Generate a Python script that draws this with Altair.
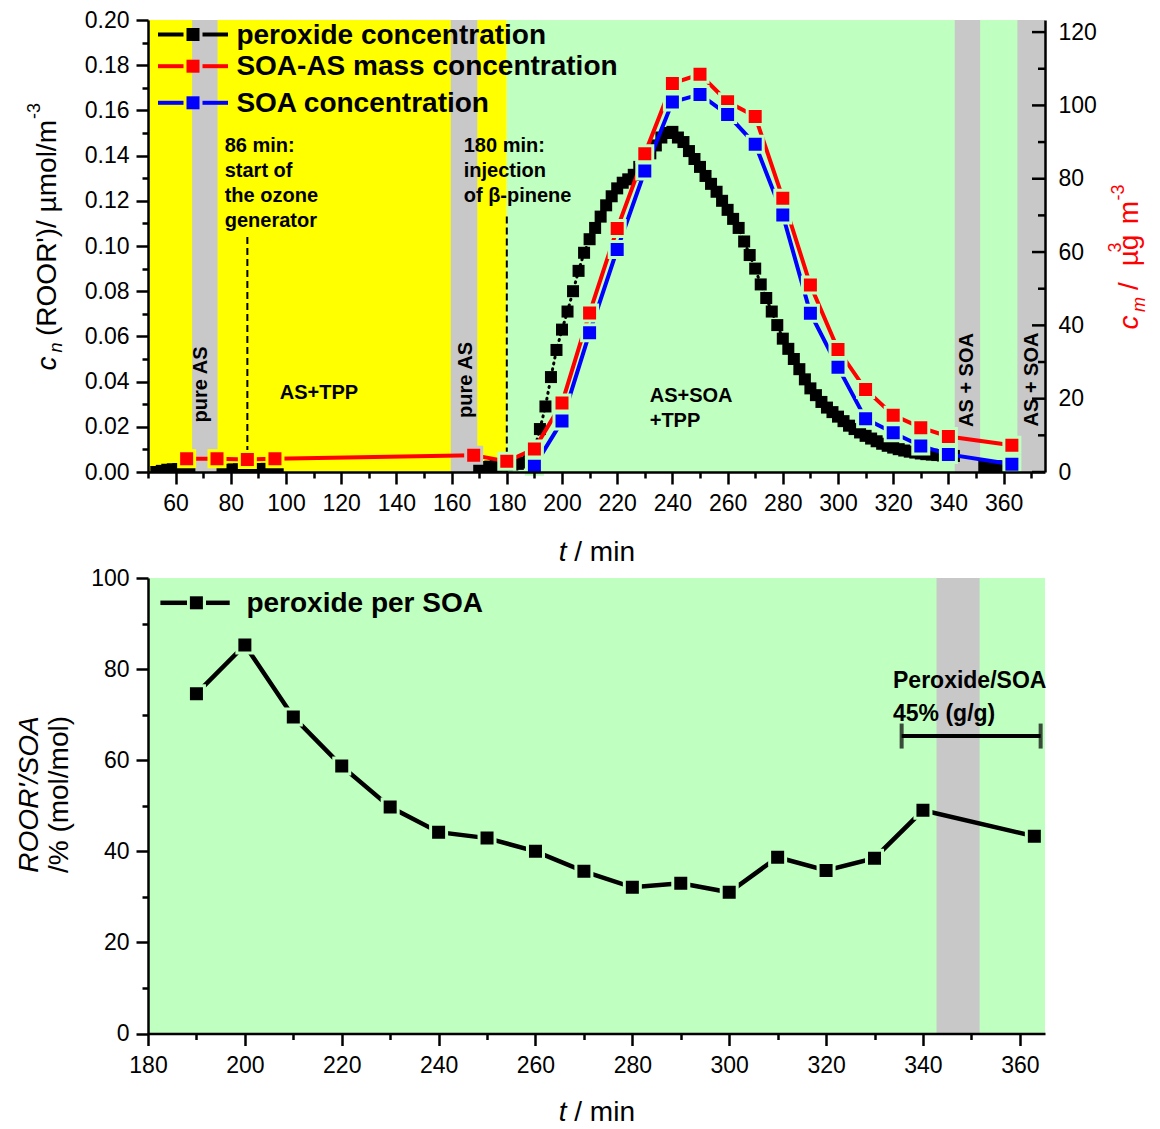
import altair as alt
import pandas as pd

FONT = "Liberation Sans"
YELLOW = "#FFFF00"
GREEN = "#BFFFBF"
GRAY = "#C8C8C8"
RED = "#FF0000"
BLUE = "#0000FF"

W = 897
H1 = 452
H2 = 455.5

# ---------------- data: top panel ----------------
perox_t1 = [53, 55, 57, 59, 61, 63, 65]
perox_v1 = [0.0000, 0.0005, 0.0010, 0.0012, 0.0013, 0.0013, 0.0013]
perox_t2 = [77, 79, 81, 83, 85, 87, 89, 91, 93, 95, 97]
perox_v2 = [0.0008, 0.0010, 0.0011, 0.0012, 0.0012, 0.0013, 0.0013, 0.0013, 0.0014, 0.0014, 0.0014]
perox_t3 = list(range(170, 343, 2))
perox_v3 = [0.0020, 0.0022, 0.0024, 0.0026, 0.0028, 0.0030, 0.0033, 0.0036, 0.0042, 0.0055,
            0.0100, 0.0190, 0.0290, 0.0420, 0.0540, 0.0630, 0.0710, 0.0800, 0.0890, 0.0970,
            0.1030, 0.1080, 0.1130, 0.1180, 0.1220, 0.1255, 0.1280, 0.1295, 0.1315, 0.1350,
            0.1375, 0.1410, 0.1445, 0.1480, 0.1500, 0.1505, 0.1480, 0.1460, 0.1420, 0.1385,
            0.1350, 0.1310, 0.1275, 0.1240, 0.1200, 0.1160, 0.1120, 0.1080, 0.1020, 0.0960,
            0.0900, 0.0830, 0.0770, 0.0710, 0.0650, 0.0590, 0.0545, 0.0500, 0.0455, 0.0410,
            0.0370, 0.0340, 0.0310, 0.0285, 0.0265, 0.0245, 0.0225, 0.0205, 0.0190, 0.0175,
            0.0160, 0.0148, 0.0136, 0.0125, 0.0116, 0.0108, 0.0101, 0.0095, 0.0090, 0.0086,
            0.0082, 0.0079, 0.0077, 0.0075, 0.0073, 0.0072, 0.0071]
perox_t4 = [353, 355, 357, 359, 361, 363]
perox_v4 = [0.0026, 0.0025, 0.0025, 0.0024, 0.0024, 0.0024]

soa_as_t = [64, 75, 86, 96, 168, 180, 190, 200, 210, 220, 230, 240, 250, 260, 270, 280,
            290, 300, 310, 320, 330, 340, 363]
soa_as_v = [3.6, 3.6, 3.4, 3.6, 4.6, 2.9, 6.3, 18.8, 43.4, 66.4, 86.8, 106.0, 108.5, 101.0,
            97.0, 74.7, 51.0, 33.4, 22.5, 15.5, 12.1, 9.7, 7.3]

soa_t = [190, 200, 210, 220, 230, 240, 250, 260, 270, 280, 290, 300, 310, 320, 330, 340, 363]
soa_v = [1.6, 13.9, 38.0, 60.7, 82.1, 100.9, 103.0, 97.5, 89.4, 70.1, 43.3, 28.6, 14.5,
         10.7, 7.1, 4.8, 2.1]

top_domain = [50, 375]
yellow_band = [50, 180]
green_band = [180, 375]
gray_top_start = [66.0, 159.7, 342.3, 365.0]
gray_top_end = [75.2, 169.3, 351.5, 375.0]
event_t = [86, 180]
event_top = [0.104, 0.113]

left_ticks = [round(i * 0.01, 2) for i in range(21)]
top_x_ticks = list(range(50, 371, 10))
right_major = [0, 20, 40, 60, 80, 100, 120]
right_minor = [10, 30, 50, 70, 90, 110]

# ---------------- data: bottom panel ----------------
ratio_t = [190, 200, 210, 220, 230, 240, 250, 260, 270, 280, 290, 300, 310, 320, 330, 340, 363]
ratio_v = [74.6, 85.3, 69.5, 58.7, 49.7, 44.2, 42.9, 40.0, 35.6, 32.1, 33.0, 31.0, 38.7,
           35.8, 38.5, 49.0, 43.3]
bottom_domain = [180, 365.2]
gray_bottom = [342.8, 351.7]
errbar_lo, errbar_hi, errbar_v = 335.6, 364.3, 65.3
bottom_x_ticks = list(range(180, 361, 10))
bottom_y_ticks = list(range(0, 101, 10))

# ---------------- helpers ----------------
ONE = pd.DataFrame({"a": [0]})


def txt(text, x, y, size=20, bold=True, italic=False, color="black", angle=0,
        align="left", baseline="middle", line_height=None):
    kw = dict(font=FONT, fontSize=size, fontWeight="bold" if bold else "normal",
              fontStyle="italic" if italic else "normal", color=color, angle=angle,
              align=align, baseline=baseline)
    if line_height is not None:
        kw["lineHeight"] = line_height
    return alt.Chart(ONE).mark_text(**kw).encode(
        x=alt.value(x), y=alt.value(y), text=alt.value(text))


def axis_common(**kw):
    base = dict(domainColor="black", domainWidth=2.5, tickColor="black", tickWidth=2.5,
                labelFont=FONT, labelFontSize=23, labelColor="black", title=None,
                grid=False, labelOverlap=False, labelFlush=False, zindex=1)
    base.update(kw)
    return alt.Axis(**base)


# ---------------- top panel ----------------
x_top_axis = axis_common(values=top_x_ticks,
                         labelExpr="datum.value % 20 == 0 ? datum.label : ''",
                         tickSize={"condition": {"test": "datum.value % 20 == 0", "value": 12}, "value": 6},
                         labelPadding=8)
x_top = alt.X("t:Q", scale=alt.Scale(domain=top_domain, nice=False, zero=False), axis=x_top_axis)
x2_top = alt.X2("t2:Q")

left_scale = alt.Scale(domain=[0, 0.2], nice=False, zero=True)
left_axis = axis_common(values=left_ticks,
                        labelExpr="round(datum.value*100) % 2 == 0 ? format(datum.value, '.2f') : ''",
                        tickSize={"condition": {"test": "round(datum.value*100) % 2 == 0", "value": 12}, "value": 6},
                        labelPadding=7)
y_left = alt.Y("v:Q", scale=left_scale, axis=left_axis)

right_scale = alt.Scale(domain=[0, 123.3], nice=False, zero=True)
right_axis = axis_common(orient="right", values=right_major, ticks=False, labelPadding=13,
                         format="d")
y_right = alt.Y("v:Q", scale=right_scale, axis=right_axis)

bands_df = pd.DataFrame({"t": [yellow_band[0], green_band[0]], "t2": [yellow_band[1], green_band[1]],
                         "kind": ["yellow", "green"]})
bg = alt.Chart(bands_df).mark_rect().encode(
    x=x_top, x2=x2_top, y=alt.value(0), y2=alt.value(H1),
    color=alt.Color("kind:N", scale=alt.Scale(domain=["yellow", "green"], range=[YELLOW, GREEN]), legend=None))
gray_df = pd.DataFrame({"t": gray_top_start, "t2": gray_top_end})
gray = alt.Chart(gray_df).mark_rect(color=GRAY).encode(
    x=x_top, x2=x2_top, y=alt.value(0), y2=alt.value(H1))

ev_df = pd.DataFrame({"t": event_t, "v": event_top, "v2": [0, 0]})
events = alt.Chart(ev_df).mark_rule(color="black", strokeWidth=2, strokeDash=[7, 4]).encode(
    x=x_top, y=y_left, y2=alt.Y2("v2:Q"))

perox_df = pd.concat([
    pd.DataFrame({"t": perox_t1, "v": perox_v1, "seg": 1}),
    pd.DataFrame({"t": perox_t2, "v": perox_v2, "seg": 2}),
    pd.DataFrame({"t": perox_t3, "v": perox_v3, "seg": 3}),
    pd.DataFrame({"t": perox_t4, "v": perox_v4, "seg": 4}),
], ignore_index=True)
perox_line = alt.Chart(perox_df).mark_line(color="black", strokeWidth=3, strokeDash=[1, 5],
                                           strokeCap="round", clip=True).encode(
    x=x_top, y=y_left, detail="seg:N")
perox_pts = alt.Chart(perox_df).mark_point(shape="square", filled=True, color="black", size=144,
                                           opacity=1, clip=True).encode(x=x_top, y=y_left)

# legend (top)
leg_y = [14.5, 46.2, 82.8]
leg_col = ["black", RED, BLUE]
leg_txt = ["peroxide concentration", "SOA-AS mass concentration", "SOA concentration"]
legend_layers = []
for yy, cc, tt in zip(leg_y, leg_col, leg_txt):
    legend_layers.append(alt.Chart(ONE).mark_rule(color=cc, strokeWidth=4).encode(
        x=alt.value(10), x2=alt.value(35.5), y=alt.value(yy)))
    legend_layers.append(alt.Chart(ONE).mark_rule(color=cc, strokeWidth=4).encode(
        x=alt.value(54.5), x2=alt.value(80), y=alt.value(yy)))
    legend_layers.append(alt.Chart(ONE).mark_point(shape="square", filled=True, color=cc, size=169,
                                                   opacity=1).encode(x=alt.value(45), y=alt.value(yy)))
    legend_layers.append(txt(tt, 88.4, yy + 1, size=28))

halo_expr = ("(datum.t >= 159.7 && datum.t <= 169.3) ? '" + GRAY + "' : "
             "(datum.t < 180 ? '" + YELLOW + "' : '" + GREEN + "')")

red_df = pd.DataFrame({"t": soa_as_t, "v": soa_as_v})
blue_df = pd.DataFrame({"t": soa_t, "v": soa_v})


def series(df, col, y):
    line = alt.Chart(df).mark_line(color=col, strokeWidth=4).encode(x=x_top, y=y)
    pts = alt.Chart(df).transform_calculate(halo=halo_expr).mark_point(
        shape="square", filled=True, color=col, size=256, opacity=1, strokeWidth=3,
        strokeOpacity=1).encode(x=x_top, y=y, stroke=alt.Stroke("halo:N", scale=None))
    return line, pts


red_line, red_pts = series(red_df, RED, y_right)
blue_line, blue_pts = series(blue_df, BLUE, y_right)

rt_major = alt.Chart(pd.DataFrame({"v": right_major})).mark_rule(color="black", strokeWidth=2.5).encode(
    y=y_right, x=alt.value(W - 13), x2=alt.value(W))
rt_minor = alt.Chart(pd.DataFrame({"v": right_minor})).mark_rule(color="black", strokeWidth=2.5).encode(
    y=y_right, x=alt.value(W - 7), x2=alt.value(W))

# annotations (top) - y is the centre of the first line
ann_top = [
    txt(["86 min:", "start of", "the ozone", "generator"], 76.7, 126.2, size=20, line_height=25),
    txt(["180 min:", "injection", "of β-pinene"], 315.7, 126.2, size=20, line_height=25),
    txt("AS+TPP", 131.7, 372.8, size=20),
    txt(["AS+SOA", "+TPP"], 501.7, 376.2, size=20, line_height=25),
    txt("pure AS", 53.4, 364.5, size=20, angle=270, align="center"),
    txt("pure AS", 318.4, 360.0, size=20, angle=270, align="center"),
    txt("AS + SOA", 819.2, 360.0, size=20, angle=270, align="center"),
    txt("AS + SOA", 884.2, 359.5, size=20, angle=270, align="center"),
]

# axis titles (top)
titles_top = [
    txt("c", -91.6, 343.5, size=28, bold=False, italic=True, angle=270, align="center", baseline="alphabetic"),
    txt("n", -86.3, 327.5, size=18, bold=False, italic=True, angle=270, align="center", baseline="alphabetic"),
    txt("(ROOR')/ µmol/m", -91.6, 208.0, size=28, bold=False, angle=270, align="center", baseline="alphabetic"),
    txt("-3", -108.3, 91.0, size=18, bold=False, angle=270, align="center", baseline="alphabetic"),
    txt("c", 989.7, 302.5, size=28, bold=False, italic=True, color=RED, angle=270, align="center", baseline="alphabetic"),
    txt("m", 996.7, 284.5, size=18, bold=False, italic=True, color=RED, angle=270, align="center", baseline="alphabetic"),
    txt("/", 989.7, 266.0, size=28, bold=False, color=RED, angle=270, align="center", baseline="alphabetic"),
    txt("µg", 989.7, 230.5, size=28, bold=False, color=RED, angle=270, align="center", baseline="alphabetic"),
    txt("3", 972.7, 227.5, size=18, bold=False, color=RED, angle=270, align="center", baseline="alphabetic"),
    txt("m", 989.7, 192.5, size=28, bold=False, color=RED, angle=270, align="center", baseline="alphabetic"),
    txt("-3", 975.7, 172.5, size=18, bold=False, color=RED, angle=270, align="center", baseline="alphabetic"),
    txt("t", 410.7, 540.5, size=28, bold=False, italic=True, baseline="alphabetic"),
    txt("/ min", 426.3, 540.5, size=28, bold=False, baseline="alphabetic"),
]

left_group = alt.layer(bg, gray, events, perox_line, perox_pts, *ann_top, *titles_top)
right_group = alt.layer(red_line, blue_line, red_pts, blue_pts, rt_major, rt_minor)
legend_group = alt.layer(*legend_layers)

top = alt.layer(left_group, right_group, legend_group).resolve_scale(y="independent").properties(
    width=W, height=H1)

# ---------------- bottom panel ----------------
x_bot_axis = axis_common(values=bottom_x_ticks,
                         labelExpr="datum.value % 20 == 0 ? datum.label : ''",
                         tickSize={"condition": {"test": "datum.value % 20 == 0", "value": 12}, "value": 6},
                         labelPadding=9)
x_bot = alt.X("t:Q", scale=alt.Scale(domain=bottom_domain, nice=False, zero=False), axis=x_bot_axis)
y_bot_axis = axis_common(values=bottom_y_ticks,
                         labelExpr="datum.value % 20 == 0 ? datum.label : ''",
                         tickSize={"condition": {"test": "datum.value % 20 == 0", "value": 12}, "value": 6},
                         labelPadding=7)
y_bot = alt.Y("v:Q", scale=alt.Scale(domain=[0, 100], nice=False), axis=y_bot_axis)

bg2 = alt.Chart(pd.DataFrame({"t": [bottom_domain[0]], "t2": [bottom_domain[1]]})).mark_rect(color=GREEN).encode(
    x=x_bot, x2=alt.X2("t2:Q"), y=alt.value(0), y2=alt.value(H2))
gray2 = alt.Chart(pd.DataFrame({"t": [gray_bottom[0]], "t2": [gray_bottom[1]]})).mark_rect(color=GRAY).encode(
    x=x_bot, x2=alt.X2("t2:Q"), y=alt.value(0), y2=alt.value(H2))

ratio_df = pd.DataFrame({"t": ratio_t, "v": ratio_v})
ratio_line = alt.Chart(ratio_df).mark_line(color="black", strokeWidth=4.5).encode(x=x_bot, y=y_bot)
ratio_pts = alt.Chart(ratio_df).mark_point(shape="square", filled=True, color="black", size=256, opacity=1,
                                           stroke=GREEN, strokeWidth=3, strokeOpacity=1).encode(x=x_bot, y=y_bot)

eb_df = pd.DataFrame({"t": [errbar_lo], "t2": [errbar_hi], "v": [errbar_v]})
eb_line = alt.Chart(eb_df).mark_rule(color="black", strokeWidth=4).encode(x=x_bot, x2=alt.X2("t2:Q"), y=y_bot)
eb_caps_df = pd.DataFrame({"t": [errbar_lo, errbar_hi], "v": [errbar_v, errbar_v]})
eb_caps = alt.Chart(eb_caps_df).mark_tick(color="black", thickness=4, size=25, orient="vertical").encode(
    x=x_bot, y=y_bot)

bot_legend = [
    alt.Chart(ONE).mark_rule(color="black", strokeWidth=4.5).encode(x=alt.value(12.4), x2=alt.value(39), y=alt.value(24.8)),
    alt.Chart(ONE).mark_rule(color="black", strokeWidth=4.5).encode(x=alt.value(58), x2=alt.value(81.7), y=alt.value(24.8)),
    alt.Chart(ONE).mark_point(shape="square", filled=True, color="black", size=169, opacity=1).encode(
        x=alt.value(48.4), y=alt.value(24.8)),
    txt("peroxide per SOA", 98.4, 25.8, size=28),
]
ann_bot = [
    txt(["Peroxide/SOA", "45% (g/g)"], 745.0, 103.2, size=23, line_height=32.6),
    txt("ROOR'/SOA", -110.3, 216.5, size=28, bold=False, italic=True, angle=270, align="center", baseline="alphabetic"),
    txt("/% (mol/mol)", -80.3, 216.5, size=28, bold=False, angle=270, align="center", baseline="alphabetic"),
    txt("t", 410.7, 542.5, size=28, bold=False, italic=True, baseline="alphabetic"),
    txt("/ min", 426.3, 542.5, size=28, bold=False, baseline="alphabetic"),
]

bottom = alt.layer(bg2, gray2, ratio_line, ratio_pts, eb_line, eb_caps, *bot_legend, *ann_bot).properties(
    width=W, height=H2)

chart = alt.vconcat(top, bottom, spacing=0).properties(
    padding={"left": 15, "top": 9, "right": 5, "bottom": 5}
).configure_view(strokeWidth=0)

chart.save("out.html", embed_options={"renderer": "svg", "actions": False})
